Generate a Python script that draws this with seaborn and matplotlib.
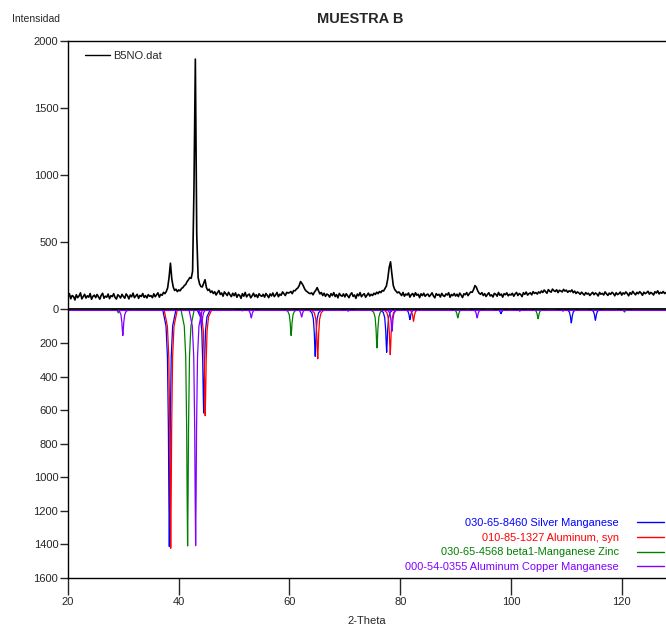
import numpy as np
import pandas as pd
import matplotlib
matplotlib.use("Agg")
import matplotlib.pyplot as plt
import seaborn as sns
from matplotlib.lines import Line2D

scan_start = 20.0
scan_step = 0.25
scan_counts = [
    92, 118, 80, 104, 97, 71, 110, 88, 101, 124, 79, 96, 113, 85, 102, 92, 119, 76, 98, 107,        # 20-25
    88, 112, 94, 77, 106, 121, 84, 99, 92, 115, 81, 103, 96, 118, 89, 78, 110, 100, 86, 113,        # 25-30
    97, 84, 116, 102, 79, 108, 95, 122, 88, 101, 113, 83, 105, 97, 119, 90, 104, 86, 111, 98,       # 30-35
    103, 88, 117, 95, 109, 124, 92, 113, 106, 128, 118, 134, 162, 238, 345, 226, 168, 142, 151, 133,  # 35-40
    146, 139, 157, 163, 178, 186, 207, 221, 238, 232, 285, 900, 1865, 560, 238, 192, 171, 168, 194, 222,  # 40-45
    163, 142, 151, 127, 138, 119, 132, 108, 126, 141, 112, 123, 99, 131, 117, 104, 128, 110, 96, 121,  # 45-50
    103, 124, 91, 112, 106, 83, 118, 99, 127, 94, 108, 115, 87, 102, 121, 96, 110, 89, 117, 104,    # 50-55
    98, 113, 92, 119, 105, 88, 116, 101, 123, 96, 109, 127, 95, 114, 106, 131, 118, 104, 128, 122,  # 55-60
    126, 134, 118, 141, 139, 152, 160, 178, 208, 194, 176, 152, 138, 131, 122, 118, 124, 109, 129, 143,  # 60-65
    163, 138, 116, 127, 104, 121, 98, 115, 109, 92, 118, 103, 126, 96, 111, 87, 120, 105, 99, 116,  # 65-70
    94, 117, 103, 88, 112, 124, 97, 108, 83, 115, 102, 126, 95, 109, 118, 91, 106, 122, 100, 113,   # 70-75
    104, 121, 112, 129, 118, 134, 126, 141, 138, 156, 175, 228, 312, 355, 262, 178, 149, 136, 124, 131,  # 75-80
    118, 104, 127, 99, 115, 108, 123, 92, 111, 119, 97, 125, 106, 114, 88, 117, 103, 121, 98, 110,  # 80-85
    115, 96, 109, 124, 101, 87, 118, 106, 113, 93, 120, 104, 97, 116, 108, 125, 91, 112, 103, 119,  # 85-90
    100, 114, 96, 122, 107, 89, 117, 110, 126, 103, 119, 131, 128, 149, 178, 166, 139, 121, 113, 126,  # 90-95
    104, 118, 97, 112, 125, 101, 109, 93, 120, 114, 99, 127, 106, 115, 92, 118, 110, 124, 102, 113,  # 95-100
    108, 121, 99, 116, 127, 104, 119, 112, 96, 125, 113, 130, 107, 118, 124, 109, 133, 120, 126, 115,  # 100-105
    131, 122, 138, 127, 145, 133, 121, 148, 136, 129, 152, 140, 134, 147, 126, 143, 138, 131, 150, 137,  # 105-110
    144, 128, 139, 133, 146, 125, 137, 119, 131, 124, 113, 129, 118, 107, 126, 115, 121, 104, 117, 128,  # 110-115
    110, 123, 116, 101, 127, 114, 120, 108, 131, 117, 105, 122, 113, 128, 119, 102, 125, 111, 118, 130,  # 115-120
    107, 124, 115, 131, 119, 102, 126, 113, 135, 121, 109, 128, 117, 133, 122, 106, 129, 118, 125, 136,  # 120-125
    114, 127, 120, 108, 132, 123, 139, 116, 128, 121, 134, 119, 126,                                  # 125-128
]

# reference patterns (peak position, intensity)
phase_labels = [
    "030-65-8460 Silver Manganese",
    "010-85-1327 Aluminum, syn",
    "030-65-4568 beta1-Manganese Zinc",
    "000-54-0355 Aluminum Copper Manganese",
]
phase_colors = ["#0000ff", "#ff0000", "#008000", "#8000ff"]

silver_mn_pos = [38.3, 44.5, 64.65, 77.55, 81.75, 98.2, 110.9, 115.25]
silver_mn_int = [1413, 617, 279, 255, 60, 25, 80, 64]
aluminum_pos = [38.55, 44.78, 65.1, 78.2, 82.4]
aluminum_int = [1423, 633, 294, 269, 70]
mn_zn_pos = [29.1, 41.6, 51.5, 60.3, 75.8, 90.4, 104.9, 120.5]
mn_zn_int = [20, 1409, 8, 155, 229, 50, 55, 15]
al_cu_mn_pos = [29.9, 43.05, 44.15, 53.1, 62.2, 70.6, 78.5, 93.9, 101.6, 109.4]
al_cu_mn_int = [155, 1407, 90, 50, 45, 10, 130, 50, 10, 10]

upper_ticks = [0, 500, 1000, 1500, 2000]
lower_ticks = [200, 400, 600, 800, 1000, 1200, 1400, 1600]
x_ticks = [20, 40, 60, 80, 100, 120]

# lower half uses its own scale (0..1600 drawn over the same height as 0..2000)
LOWER_SCALE = 2000 / 1600
# drawn peak profile (offset in degrees, fraction of height)
PEAK_DX = [-1.2, -0.6, -0.34, -0.17, -0.08, 0, 0.08, 0.17, 0.34, 0.6, 1.2]
PEAK_FRAC = [0, 0.07, 0.2, 0.5, 0.8, 1, 0.8, 0.5, 0.2, 0.07, 0]

scan = pd.DataFrame({
    "two_theta": scan_start + scan_step * np.arange(len(scan_counts)),
    "counts": scan_counts,
})

rows = []
phases = [(silver_mn_pos, silver_mn_int), (aluminum_pos, aluminum_int),
          (mn_zn_pos, mn_zn_int), (al_cu_mn_pos, al_cu_mn_int)]
peak_id = 0
for label, (pos, inten) in zip(phase_labels, phases):
    for p, h in zip(pos, inten):
        for dx, f in zip(PEAK_DX, PEAK_FRAC):
            rows.append({"two_theta": p + dx, "y": -h * f * LOWER_SCALE,
                         "phase": label, "peak": peak_id})
        peak_id += 1
refs = pd.DataFrame(rows)

sns.set_style("white")
plt.rcParams["font.family"] = ["Liberation Sans", "DejaVu Sans"]

fig = plt.figure(figsize=(6.66, 6.26), dpi=100)
ax = fig.add_axes([0.1021, 0.0767, 0.8979, 0.8578])

sns.lineplot(data=refs, x="two_theta", y="y", hue="phase", units="peak",
             estimator=None, sort=False, palette=dict(zip(phase_labels, phase_colors)),
             hue_order=phase_labels, lw=0.9, legend=False, ax=ax)
ax.axhline(-6, color=phase_colors[3], lw=0.8, zorder=2)
ax.axhline(0, color="black", lw=1.3, zorder=3)
sns.lineplot(data=scan, x="two_theta", y="counts", color="black", lw=1.2,
             estimator=None, ax=ax, zorder=4)

ax.set_xlim(20, 128)
ax.set_ylim(-2000, 2000)
ax.set_xticks(x_ticks)
ax.set_xticklabels([str(t) for t in x_ticks], fontsize=8)
yt = [-t * LOWER_SCALE for t in lower_ticks[::-1]] + upper_ticks
yl = [str(t) for t in lower_ticks[::-1]] + [str(t) for t in upper_ticks]
ax.set_yticks(yt)
ax.set_yticklabels(yl, fontsize=8)
ax.tick_params(axis="x", direction="out", length=12, width=1, pad=2, bottom=True)
ax.tick_params(axis="y", direction="out", length=6, width=1, pad=1, left=True)
ax.set_xlabel("2-Theta", fontsize=8, labelpad=6)
ax.set_ylabel("")
for side in ["left", "bottom", "top"]:
    ax.spines[side].set_color("black")
    ax.spines[side].set_linewidth(1.0)
ax.spines["right"].set_visible(False)

scan_leg = ax.legend(handles=[Line2D([], [], color="black", lw=1.0)], labels=["B5NO.dat"],
                     loc="upper left", bbox_to_anchor=(0.012, 1.0), frameon=False,
                     fontsize=8, handlelength=2.2, handletextpad=0.3)
ax.add_artist(scan_leg)
handles = [Line2D([], [], color=c, lw=1.0) for c in phase_colors]
ax.legend(handles=handles, labels=phase_labels, loc="lower right", frameon=False,
          fontsize=7.9, markerfirst=False, labelcolor="linecolor", handlelength=2.4,
          handletextpad=1.7, labelspacing=0.42, borderaxespad=0.15,
          bbox_to_anchor=(1.006, 0.0))

fig.text(0.541, 0.969, "MUESTRA B", ha="center", va="center", fontsize=10.5, fontweight="bold")
fig.text(0.018, 0.969, "Intensidad", ha="left", va="center", fontsize=7.5)

fig.savefig("out.png", dpi=100)
